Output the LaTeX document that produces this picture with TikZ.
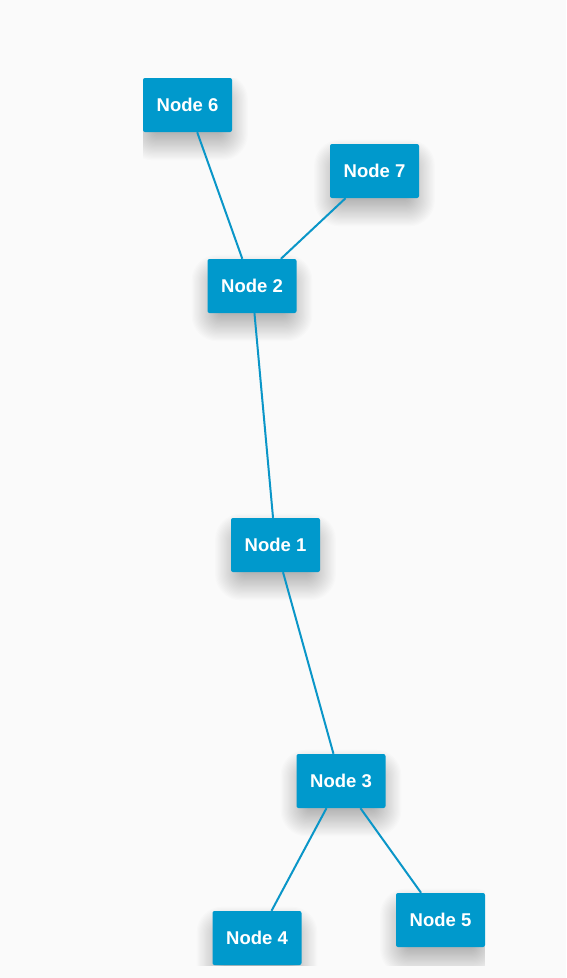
\documentclass[tikz,border=0pt]{standalone}
\usepackage{fontspec}
\setmainfont{Liberation Sans}
\definecolor{bgcol}{HTML}{FAFAFA}
\definecolor{nodeblue}{HTML}{0099CC}
\definecolor{edgeblue}{HTML}{0A96C8}
\tikzset{
  gnode/.style={rectangle, fill=nodeblue, draw=none, rounded corners=2pt,
    minimum width=89pt, minimum height=54pt, inner sep=0pt, text=white,
    font=\fontsize{18.5}{20}\selectfont\bfseries},
  gedge/.style={draw=edgeblue, line width=2pt}
}
\newcommand{\mkshadow}[2]{%
  \foreach \k in {0,...,22}{%
    \fill[black, opacity=0.011, rounded corners={4pt+\k*1pt}]
      ({#1-34-\k*1.2},{#2+12-17-\k*1.2}) rectangle ({#1+34+\k*1.2},{#2+12+17+\k*1.2});
  }%
}
\begin{document}
\begin{tikzpicture}[x=1pt,y=-1pt]
\fill[bgcol] (0,0) rectangle (566,978);
\useasboundingbox (0,0) rectangle (566,978);
\begin{scope}
  \clip (143,78) rectangle (485,965);
  \mkshadow{187.5}{105}
  \mkshadow{374.5}{171}
  \mkshadow{252}{286}
  \mkshadow{275.5}{545}
  \mkshadow{341}{781}
  \mkshadow{257}{938}
  \mkshadow{440.5}{920}
\end{scope}
\node[gnode] (n6) at (187.5,105) {Node 6};
\node[gnode] (n7) at (374.5,171) {Node 7};
\node[gnode] (n2) at (252,286) {Node 2};
\node[gnode] (n1) at (275.5,545) {Node 1};
\node[gnode] (n3) at (341,781) {Node 3};
\node[gnode] (n4) at (257,938) {Node 4};
\node[gnode] (n5) at (440.5,920) {Node 5};
\draw[gedge] (n6) -- (n2);
\draw[gedge] (n7) -- (n2);
\draw[gedge] (n2) -- (n1);
\draw[gedge] (n1) -- (n3);
\draw[gedge] (n3) -- (n4);
\draw[gedge] (n3) -- (n5);
\end{tikzpicture}
\end{document}
